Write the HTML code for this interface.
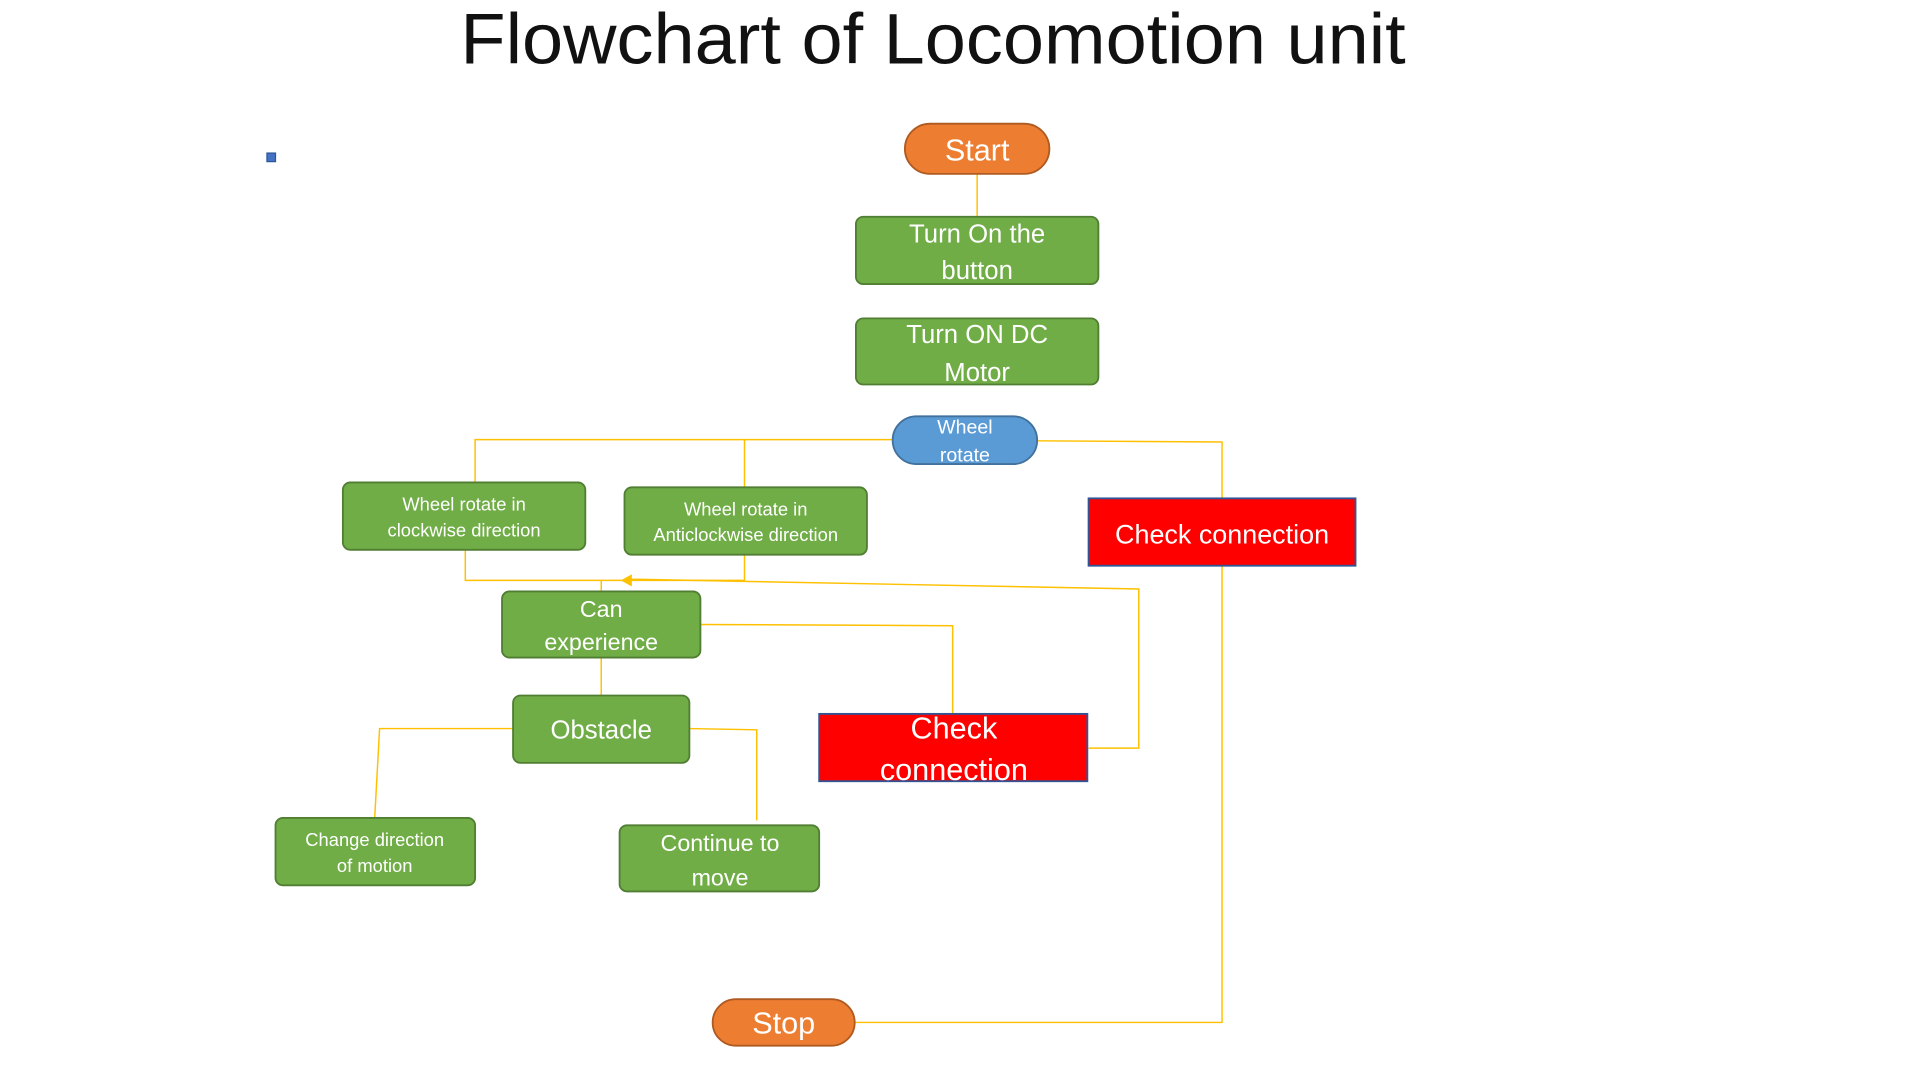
<!DOCTYPE html>
<html><head><meta charset="utf-8"><style>
html,body{margin:0;padding:0;background:#fff;width:1920px;height:1080px;overflow:hidden}
svg{display:block}
text{font-family:"Liberation Sans",sans-serif;fill:#fff;text-anchor:middle}
</style></head><body>
<svg width="1920" height="1080" viewBox="0 0 1568 882" xmlns="http://www.w3.org/2000/svg">
<text x="762" y="52" font-size="58" style="fill:#111" textLength="772" lengthAdjust="spacingAndGlyphs">Flowchart of Locomotion unit</text>
<rect x="218" y="125" width="7" height="7" fill="#4472C4" stroke="#2F5597"/>
<g stroke="#FFC000" stroke-width="1.2" fill="none">
<line x1="798" y1="142" x2="798" y2="177"/>
<polyline points="729,359 388,359 388,394"/>
<line x1="608" y1="359" x2="608" y2="398"/>
<polyline points="847,360 998,361 998,407"/>
<polyline points="380,449 380,474 608,474 608,453"/>
<line x1="491" y1="474" x2="491" y2="483"/>
<polyline points="514,473 930,481 930,611 889,611"/>
<polyline points="572,510 778,511 778,583"/>
<polyline points="998,462 998,835 698,835"/>
<line x1="491" y1="537" x2="491" y2="568"/>
<polyline points="419,595 310,595 306,668"/>
<polyline points="563,595 618,596 618,670"/>
</g>
<polygon points="507,474 516,469 516,479" fill="#FFC000"/>
<g stroke-width="1.5">
<rect x="739" y="101" width="118" height="41" rx="20.5" fill="#ED7D31" stroke="#AE5A21"/>
<rect x="699" y="177" width="198" height="55" rx="6" fill="#70AD47" stroke="#507E32"/>
<rect x="699" y="260" width="198" height="54" rx="6" fill="#70AD47" stroke="#507E32"/>
<rect x="729" y="340" width="118" height="39" rx="19.5" fill="#5B9BD5" stroke="#41719C"/>
<rect x="280" y="394" width="198" height="55" rx="6" fill="#70AD47" stroke="#507E32"/>
<rect x="510" y="398" width="198" height="55" rx="6" fill="#70AD47" stroke="#507E32"/>
<rect x="889" y="407" width="218" height="55" fill="#FF0000" stroke="#2F5597"/>
<rect x="410" y="483" width="162" height="54" rx="6" fill="#70AD47" stroke="#507E32"/>
<rect x="419" y="568" width="144" height="55" rx="6" fill="#70AD47" stroke="#507E32"/>
<rect x="669" y="583" width="219" height="55" fill="#FF0000" stroke="#2F5597"/>
<rect x="225" y="668" width="163" height="55" rx="6" fill="#70AD47" stroke="#507E32"/>
<rect x="506" y="674" width="163" height="54" rx="6" fill="#70AD47" stroke="#507E32"/>
<rect x="582" y="816" width="116" height="38" rx="19" fill="#ED7D31" stroke="#AE5A21"/>
</g>
<text x="798" y="131" font-size="25">Start</text>
<text x="798" y="198" font-size="21">Turn On the</text>
<text x="798" y="228" font-size="21">button</text>
<text x="798" y="280" font-size="21">Turn ON DC</text>
<text x="798" y="311" font-size="21">Motor</text>
<text x="788" y="354" font-size="16">Wheel</text>
<text x="788" y="377" font-size="16">rotate</text>
<text x="379" y="417" font-size="15">Wheel rotate in</text>
<text x="379" y="438" font-size="15">clockwise direction</text>
<text x="609" y="421" font-size="15">Wheel rotate in</text>
<text x="609" y="442" font-size="15">Anticlockwise direction</text>
<text x="998" y="444" font-size="22">Check connection</text>
<text x="491" y="504" font-size="19">Can</text>
<text x="491" y="531" font-size="19">experience</text>
<text x="491" y="603" font-size="21">Obstacle</text>
<text x="779" y="603" font-size="25">Check</text>
<text x="779" y="637" font-size="25">connection</text>
<text x="306" y="691" font-size="15">Change direction</text>
<text x="306" y="712" font-size="15">of motion</text>
<text x="588" y="695" font-size="19">Continue to</text>
<text x="588" y="723" font-size="19">move</text>
<text x="640" y="844" font-size="25">Stop</text>
</svg>
</body></html>
